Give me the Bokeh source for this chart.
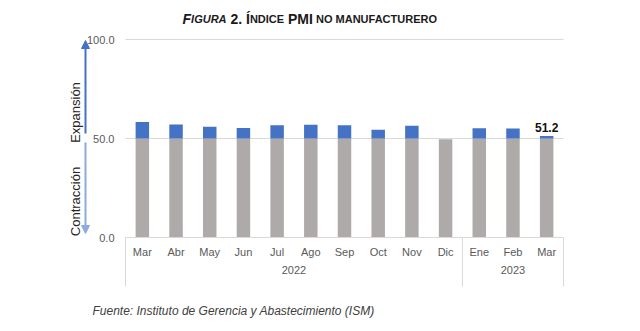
from bokeh.plotting import figure
from bokeh.models import (Range1d, LinearAxis, FixedTicker, Label, Arrow, NormalHead,
                          ColumnDataSource, PrintfTickFormatter, CustomJSTickFormatter)
from bokeh.core.properties import value
from bokeh.embed import file_html
from bokeh.resources import INLINE

# ---- data ----
years = ["2022"] * 10 + ["2023"] * 3
months = ["Mar", "Abr", "May", "Jun", "Jul", "Ago", "Sep", "Oct", "Nov", "Dic", "Ene", "Feb", "Mar"]
pmi = [58.3, 57.1, 55.9, 55.3, 56.7, 56.9, 56.7, 54.4, 56.5, 49.6, 55.2, 55.1, 51.2]
threshold = 50.0
y_ticks = [0, 50, 100]
year_names = ["2022", "2023"]

ncat = len(months)
centers = [i + 0.5 for i in range(ncat)]
gray_top = [min(v, threshold) for v in pmi]
blue_top = [max(v, threshold) for v in pmi]
year_counts = [years.count(y) for y in year_names]
edges = [0]
for c in year_counts:
    edges.append(edges[-1] + c)
year_centers = [(edges[i] + edges[i + 1]) / 2 for i in range(len(year_names))]

# ---- geometry (canvas pixels) ----
W, H = 640, 331
CL, CR = 125, 563          # category area left/right
Y0_PX, Y100_PX = 237, 39   # y=0 and y=100 positions
ppu = (Y0_PX - Y100_PX) / 100.0
cat_px = (CR - CL) / ncat


def X(px):
    return (px - CL) / cat_px


def Y(py):
    return (Y0_PX - py) / ppu


FONT = "Liberation Sans"
GRID = "#D9D9D9"
LABEL = "#595959"

p = figure(width=W, height=H,
           x_range=Range1d(X(0), X(W)), y_range=Range1d(Y(H), Y(0)),
           output_backend="svg", toolbar_location=None,
           x_axis_location=None, y_axis_location=None,
           min_border=0, outline_line_color=None,
           background_fill_color="white", border_fill_color="white")
p.grid.visible = False

# horizontal gridlines (above zero)
grid_ticks = [t for t in y_ticks if t > 0]
p.segment(x0=[0] * len(grid_ticks), x1=[ncat] * len(grid_ticks), y0=grid_ticks, y1=grid_ticks,
          line_color=GRID, line_width=1)

# bars
src = ColumnDataSource(dict(x=centers, g=gray_top, b=blue_top))
p.vbar(x="x", top="g", bottom=0, width=0.4, source=src, fill_color="#AEAAAA", line_color=None)
p.vbar(x="x", top="b", bottom=threshold, width=0.4, source=src, fill_color="#4472C4", line_color=None)

# last value label
p.text(x=[centers[-1]], y=[pmi[-1]], text=[f"{pmi[-1]:.1f}"], text_align="center",
       text_baseline="bottom", y_offset=-4, text_font=value(FONT), text_font_style="bold",
       text_font_size="12px", text_color="#111111")

# y axis (fixed at left edge of category area)
yax = LinearAxis(fixed_location=0, ticker=FixedTicker(ticks=y_ticks),
                 formatter=PrintfTickFormatter(format="%.1f"))
yax.axis_line_color = None
yax.major_tick_line_color = None
yax.minor_tick_line_color = None
yax.major_tick_out = 0
yax.major_tick_in = 0
yax.major_label_text_font = FONT
yax.major_label_text_font_size = "11px"
yax.major_label_text_color = LABEL
yax.major_label_standoff = 11
p.add_layout(yax, "left")

# month axis at y = 0
xax = LinearAxis(fixed_location=0, bounds=(0, ncat), ticker=FixedTicker(ticks=centers),
                 formatter=CustomJSTickFormatter(args=dict(labels=months), code="return labels[index];"))
xax.axis_line_color = GRID
xax.major_tick_line_color = None
xax.minor_tick_line_color = None
xax.major_tick_out = 0
xax.major_tick_in = 0
xax.major_label_text_font = FONT
xax.major_label_text_font_size = "11px"
xax.major_label_text_color = LABEL
xax.major_label_standoff = 8
p.add_layout(xax, "below")

# year axis
gax = LinearAxis(fixed_location=0, ticker=FixedTicker(ticks=year_centers),
                 formatter=CustomJSTickFormatter(args=dict(labels=year_names), code="return labels[index];"))
gax.axis_line_color = None
gax.major_tick_line_color = None
gax.minor_tick_line_color = None
gax.major_tick_out = 0
gax.major_tick_in = 0
gax.major_label_text_font = FONT
gax.major_label_text_font_size = "11px"
gax.major_label_text_color = LABEL
gax.major_label_standoff = 28
p.add_layout(gax, "below")

# box edges of category axis
p.segment(x0=edges, y0=[0] * len(edges), x1=edges, y1=[Y(286)] * len(edges),
          line_color=GRID, line_width=1)

# arrows
p.add_layout(Arrow(x_start=X(85), y_start=Y(133), x_end=X(85), y_end=Y(40),
                   line_color="#4472C4", line_width=2,
                   end=NormalHead(size=8, fill_color="#4472C4", line_color="#4472C4")))
p.add_layout(Arrow(x_start=X(85), y_start=Y(142), x_end=X(85), y_end=Y(233),
                   line_color="#8FAADC", line_width=2,
                   end=NormalHead(size=8, fill_color="#8FAADC", line_color="#8FAADC")))

for txt, cy in [("Expansión", 112), ("Contracción", 201)]:
    p.add_layout(Label(x=X(75), y=Y(cy), text=txt, angle=90, angle_units="deg",
                       text_align="center", text_baseline="middle", text_font=FONT,
                       text_font_size="13px", text_color="#262626"))

# title (small caps emulated)
title_parts = [("F", 182.0, 14, "bold italic"), ("IGURA", 190.6, 11, "bold italic"),
               ("2.", 229.9, 14, "bold"), ("Í", 245.5, 14, "bold"), ("NDICE", 249.4, 11, "bold"),
               ("PMI", 287.5, 14, "bold"), ("NO MANUFACTURERO", 315.5, 11, "bold")]
for txt, xp, fs, st in title_parts:
    p.add_layout(Label(x=X(xp), y=Y(18), text=txt, text_align="left", text_baseline="alphabetic",
                       text_font=FONT, text_font_size=f"{fs}px", text_font_style=st,
                       text_color="#1a1a1a"))

# footer
p.add_layout(Label(x=X(92), y=Y(310), text="Fuente: Instituto de Gerencia y Abastecimiento (ISM)",
                   text_align="left", text_baseline="middle", text_font=FONT,
                   text_font_size="12px", text_font_style="italic", text_color="#404040"))

open("out.html", "w").write(file_html(p, INLINE))
